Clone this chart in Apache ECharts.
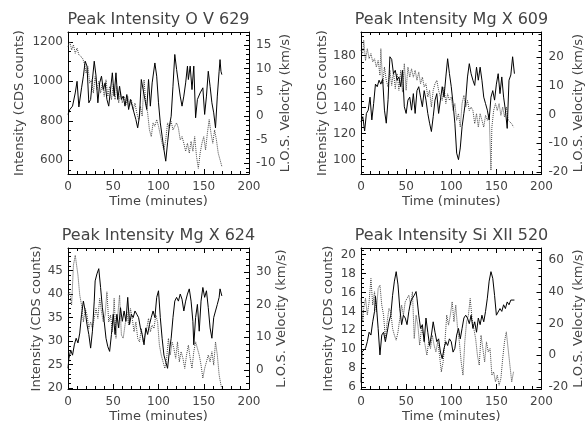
<!DOCTYPE html>
<html><head><meta charset="utf-8">
<script src="https://cdn.jsdelivr.net/npm/echarts@6/dist/echarts.min.js"></script>
<style>html,body{margin:0;padding:0;background:#fff}#c{width:586px;height:429px}</style>
</head><body><div id="c"></div>
<script>
// ---------- data ----------
const panelTitles = ['Peak Intensity O V 629', 'Peak Intensity Mg X 609', 'Peak Intensity Mg X 624', 'Peak Intensity Si XII 520'];
const xAxisName = 'Time (minutes)';
const leftAxisName = 'Intensity (CDS counts)';
const rightAxisName = 'L.O.S. Velocity (km/s)';
const timeRange = [0, 200];

// [minute, intensity] and [minute, velocity]
const ovIntensity = [[0,832],[2,857],[5,874],[8,941],[10,1000],[12,870],[15,967],[17,1026],[19,1102],[21,1077],[23,891],[25,908],[27,1009],[29,1102],[31,1026],[33,891],[35,992],[37,1026],[39,958],[41,992],[43,908],[45,874],[47,958],[49,1043],[51,925],[53,1043],[55,908],[57,975],[59,908],[61,925],[63,874],[65,933],[67,857],[69,908],[71,874],[73,840],[75,806],[77,764],[79,823],[81,1009],[83,958],[85,908],[87,857],[89,1009],[91,874],[93,992],[96,1093],[98,1026],[100,891],[102,789],[104,722],[106,654],[108,595],[110,688],[112,772],[114,823],[116,975],[118,1136],[120,1060],[122,992],[124,925],[126,874],[128,925],[130,992],[132,1077],[133,1009],[135,1077],[137,958],[139,1077],[141,815],[143,908],[146,941],[149,967],[151,832],[153,925],[155,1051],[157,975],[159,891],[161,840],[163,764],[165,925],[167,1051],[168,1110],[169,1051],[170,1034]];
const ovVelocity = [[0,14.6],[2,15.7],[4,13.9],[6,15],[8,13.2],[10,14.3],[12,12.9],[14,13.2],[16,12.2],[18,11.1],[20,9.0],[22,10.4],[24,6.9],[26,7.6],[28,4.8],[30,8.3],[32,5.5],[34,7.3],[36,4.8],[38,6.9],[40,4.1],[42,7.6],[44,4.1],[46,6.2],[48,3.4],[50,6.6],[52,3.4],[54,6.2],[56,2.7],[58,5.1],[60,2.7],[62,4.1],[64,2.3],[66,4.1],[68,2.0],[70,3.4],[72,1.3],[74,2.7],[76,0.6],[78,-0.8],[80,2.0],[82,-0.1],[84,7.6],[86,2.7],[88,0.6],[90,-3.0],[92,-4.4],[94,-1.5],[96,-2.2],[98,-0.8],[100,-2.2],[102,-2.2],[104,-5.8],[106,-7.2],[108,-5.1],[110,-1.5],[112,-2.6],[114,-1.2],[116,-3.0],[118,-2.2],[120,-1.5],[122,-2.6],[124,-5.1],[126,-4.4],[128,-5.8],[130,-7.5],[132,-5.8],[134,-7.9],[136,-5.4],[138,-7.5],[140,-4.4],[142,-8.6],[144,-11.1],[146,-7.9],[148,-5.8],[150,-4.4],[152,-7.2],[154,-3.7],[156,-0.8],[158,-3.7],[160,-5.8],[162,-3.0],[164,-5.1],[166,-7.9],[168,-9.3],[170,-10.7]];

const mg609Intensity = [[0,129],[2,133],[4,122],[6,135.5],[8,138],[10,148],[12,130.5],[14,143],[16,158],[18,156],[20,161],[22,158],[24,162],[26,138],[28,128],[30,146],[32,179],[34,177],[36,166],[38,168.6],[40,161],[42,163.5],[44,156],[46,168.6],[48,140.6],[50,135.5],[52,145.7],[54,148],[56,138],[58,150.7],[60,135.5],[62,153],[64,156],[66,148],[68,140.6],[70,153],[72,145.7],[74,135.5],[76,128],[78,121.6],[80,133],[82,145.7],[84,150.7],[86,135.5],[88,145.7],[90,156],[92,148],[94,163.5],[96,177.5],[98,166],[100,156],[102,143],[104,128],[106,105],[108,100],[110,109],[112,125.4],[114,135.5],[116,145.7],[118,163.5],[120,173.7],[122,166],[124,161],[126,157],[128,171],[130,161],[132,171],[134,161],[136,148],[138,143],[140,138],[142,130.5],[144,148],[146,153],[148,145.7],[150,158],[152,166],[154,150.7],[156,163.5],[158,148],[160,138],[162,124],[164,161],[166,165],[168,179],[170,166]];
const mg609Velocity = [[0,22.3],[2,21.2],[3,25.8],[5,18.8],[7,22.9],[9,19.4],[11,21.2],[13,18.3],[15,19.4],[17,16.5],[19,18.8],[21,13.6],[22,22.9],[24,10.7],[26,16.5],[28,11.9],[30,9.6],[32,15.4],[34,10.1],[36,14.8],[38,9],[40,14.2],[42,8.4],[44,15.4],[46,7.8],[48,17.7],[50,8.4],[52,16.5],[54,13],[56,15.9],[58,13],[60,15.4],[62,11.9],[64,14.8],[66,10.7],[68,13],[70,9.6],[72,10.7],[74,6.1],[76,8.4],[78,2.6],[80,8.4],[82,10.7],[84,11.9],[86,8.4],[88,6.1],[90,4.9],[92,9.6],[94,3.8],[96,7.2],[98,4.9],[100,6.1],[102,1.4],[104,3.8],[106,-2],[108,0.3],[110,-4.4],[112,3.8],[114,6.7],[116,2.6],[118,4.9],[120,1.4],[122,2.6],[124,1.4],[126,-3.2],[128,0.3],[130,-4.4],[132,0.3],[134,-2],[136,-4.4],[138,-0.3],[140,-2],[142,0.3],[144,-19.4],[145,-4.4],[147,1.4],[149,3.8],[151,1.4],[153,3.8],[155,-0.3],[157,2.6],[159,-0.9],[161,2.6],[163,-2],[165,-1.5],[167,-3.2],[169,-4.4]];

const mg624Intensity = [[0,24.2],[1,26.3],[3,28.1],[5,27.0],[7,29.2],[9,30.6],[11,29.6],[13,31.7],[15,35.7],[17,38.5],[19,36.4],[21,33.5],[23,31.4],[25,28.5],[27,32.1],[29,38.5],[30,42.8],[32,44.3],[34,45.4],[36,41.4],[38,37.1],[40,34.2],[42,30.6],[44,28.8],[46,27.8],[48,31.4],[50,35.7],[52,31.4],[54,35.7],[56,32.8],[58,37.1],[60,34.2],[62,36.4],[64,34.2],[66,39.3],[68,33.5],[70,35.7],[72,35.0],[74,36.4],[76,35.7],[78,35.0],[80,32.8],[82,31.4],[84,29.2],[86,32.8],[88,31.4],[90,33.5],[92,35.0],[94,36.4],[96,35.0],[98,39.3],[100,40.7],[102,35.0],[104,30.6],[106,27.0],[108,25.6],[110,24.2],[112,27.8],[114,30.6],[116,35.0],[118,38.5],[120,39.3],[122,38.5],[124,40.0],[126,38.9],[128,36.4],[130,38.5],[132,40.0],[134,41.1],[136,38.5],[138,34.2],[139,29.2],[141,35.0],[143,37.8],[145,32.1],[147,38.5],[149,41.4],[151,39.3],[153,40.7],[155,37.1],[157,32.8],[159,30.6],[161,35.0],[163,36.4],[165,37.8],[167,39.3],[168,41.1],[170,39.6]];
const mg624Velocity = [[0,22.9],[2,23.9],[4,19.8],[6,32.0],[8,35.1],[9,35.6],[11,29],[13,22.9],[15,19.8],[17,14.7],[19,18.8],[21,16.8],[23,12.7],[25,14.7],[27,12.7],[29,15.8],[31,18.8],[33,15.8],[35,21.9],[37,17.8],[39,14.7],[41,16.8],[43,23.9],[45,14.7],[47,16.8],[49,11.7],[51,21.9],[53,9.7],[55,16.8],[57,22.9],[59,10.7],[61,9.7],[63,13.7],[65,17.8],[67,13.7],[69,18.8],[71,15.8],[73,11.7],[75,14.7],[77,9.7],[79,8.6],[81,12.7],[83,8.6],[85,10.7],[87,12.7],[89,15.8],[91,11.7],[93,13.7],[95,12.7],[97,16.8],[99,14.7],[101,7.6],[103,4.6],[105,2.5],[107,0.5],[109,3.6],[111,9.7],[113,4.6],[115,8.6],[117,6.6],[119,3.6],[121,8.6],[123,2.5],[125,5.6],[127,3.6],[129,0.5],[131,4.6],[133,7.6],[135,3.6],[137,0.5],[139,5.6],[141,8.6],[143,6.6],[145,4.6],[147,1.5],[149,-2.5],[151,0.5],[153,2.5],[155,4.6],[157,2.5],[159,5.6],[161,1.5],[163,8.6],[165,4.6],[167,-1.5],[169,-4.6],[170,-5.6]];

const si520Intensity = [[0,6.5],[1,9.7],[3,9.9],[5,10.1],[7,10.8],[9,11.8],[11,11.5],[13,12.9],[15,14.0],[16,15.6],[17,14.7],[19,12.2],[21,9.4],[23,11.5],[25,11.8],[27,10.8],[29,11.8],[31,12.9],[33,13.6],[35,15.7],[37,17.2],[39,18.2],[41,16.8],[43,14.3],[45,12.6],[47,13.6],[49,13.3],[51,12.6],[53,14.0],[55,15.0],[57,15.4],[59,15.7],[61,16.1],[62,15.4],[64,13.6],[66,12.2],[68,12.6],[70,10.8],[72,13.3],[74,11.8],[76,10.4],[78,11.5],[80,12.9],[82,11.8],[84,10.8],[86,11.1],[88,9.7],[90,9.0],[92,10.1],[94,10.8],[96,10.4],[98,11.1],[100,10.8],[102,9.7],[104,10.1],[106,11.5],[108,12.2],[110,11.1],[112,12.2],[114,13.3],[116,13.6],[118,13.3],[120,12.7],[122,13.6],[124,12.2],[126,12.9],[128,11.8],[130,13.3],[132,12.6],[134,13.6],[136,12.9],[138,14.0],[140,15.4],[142,17.2],[144,18.2],[146,17.5],[148,15.7],[150,13.6],[152,13.4],[154,14.3],[156,14.0],[158,14.7],[160,14.3],[162,15.0],[164,14.7],[166,15.2],[168,15.2],[170,15.2]];
const si520Velocity = [[0,35.8],[2,21.1],[3,29.5],[5,35.8],[7,25.3],[9,33.7],[11,48.4],[13,31.6],[15,40],[17,27.4],[19,42.1],[21,44.2],[23,31.6],[25,25.3],[27,10.5],[29,21.1],[31,29.5],[33,27.4],[35,16.8],[37,12.6],[39,9.5],[41,14.7],[43,23.2],[45,31.6],[47,25.3],[49,33.7],[51,35.8],[53,37.9],[55,31.6],[57,40],[59,10.5],[61,25.3],[63,19],[65,6.3],[67,16.8],[69,12.6],[71,6.3],[73,0],[75,8.4],[77,4.2],[79,12.6],[81,6.3],[83,2.1],[85,8.4],[87,0],[89,-10.5],[91,-4.2],[93,8.4],[95,25.3],[97,19],[99,25.3],[101,33.7],[103,21.1],[105,31.6],[107,16.8],[109,8.4],[111,-4.2],[113,-12.6],[115,8.4],[117,21.1],[119,25.3],[121,35.8],[123,23.2],[125,16.8],[127,10.5],[129,0],[131,-6.3],[133,12.6],[135,4.2],[137,-4.2],[139,8.4],[141,2.1],[143,4.2],[145,-12.6],[147,-10.5],[149,-16.8],[151,-12.6],[153,-18.9],[155,-14.7],[157,-2.1],[159,8.4],[161,14.7],[163,4.2],[165,-6.3],[167,-16.8],[169,-10.5]];

const intensityData = [ovIntensity, mg609Intensity, mg624Intensity, si520Intensity];
const velocityData = [ovVelocity, mg609Velocity, mg624Velocity, si520Velocity];
// axis ranges [min, max] and major tick step
const intensityRange = [[530, 1250], [89, 198], [19.8, 49.8], [5.8, 20.7]];
const intensityStep = [200, 20, 5, 2];
const velocityRange = [[-12.3, 17.7], [-20.7, 28.7], [-5.8, 37.3], [-21.3, 67.6]];
const velocityStep = [5, 10, 10, 20];

// ---------- layout / style ----------
const layout = [
  {left: 68, top: 32, width: 181, height: 142, lGap: 42, rGap: 28, split: 4, vsplit: 6, minorI: 4, minorV: 5},
  {left: 361, top: 32, width: 181, height: 142, lGap: 32, rGap: 28, split: 5, vsplit: 5, minorI: 4, minorV: 5},
  {left: 68, top: 248, width: 181, height: 141, lGap: 25, rGap: 24, split: 6, vsplit: 4, minorI: 5, minorV: 5},
  {left: 361, top: 248, width: 181, height: 141, lGap: 26, rGap: 28, split: 7, vsplit: 4, minorI: 4, minorV: 4}
];
const FONT = 'DejaVu Sans';
const TXT = '#444';

function stepFormatter(step) {
  return function (v) {
    const r = v / step;
    return Math.abs(r - Math.round(r)) < 1e-6 ? String(Math.round(v * 1000) / 1000) : '';
  };
}
function tickCommon(minorSplit) {
  return {
    axisLine: {show: true, onZero: false, lineStyle: {color: '#000', width: 1}},
    axisTick: {show: true, inside: true, length: 5, lineStyle: {color: '#000', width: 1}},
    minorTick: {show: true, splitNumber: minorSplit, length: 3, lineStyle: {color: '#000', width: 1}},
    splitLine: {show: false},
    minorSplitLine: {show: false}
  };
}

const grid = [], xAxis = [], yAxis = [], series = [], title = [];
layout.forEach((L, i) => {
  grid.push({left: L.left, top: L.top, width: L.width, height: L.height, containLabel: false});
  title.push({
    text: panelTitles[i], left: L.left + L.width / 2, textAlign: 'center', top: L.top - 20, padding: 0,
    textStyle: {fontFamily: FONT, fontSize: 16, fontWeight: 'normal', color: TXT}
  });
  xAxis.push(Object.assign({
    type: 'value', gridIndex: i, position: 'bottom', min: timeRange[0], max: timeRange[1], interval: 50,
    name: xAxisName, nameLocation: 'middle', nameGap: 21,
    nameTextStyle: {fontFamily: FONT, fontSize: 13, color: TXT},
    axisLabel: {fontFamily: FONT, fontSize: 12, color: TXT, margin: 7}
  }, tickCommon(5)));
  xAxis.push(Object.assign({
    type: 'value', gridIndex: i, position: 'top', min: timeRange[0], max: timeRange[1], interval: 50,
    axisLabel: {show: false}
  }, tickCommon(5)));
  yAxis.push(Object.assign({
    type: 'value', gridIndex: i, position: 'left', min: intensityRange[i][0], max: intensityRange[i][1],
    splitNumber: L.split,
    name: leftAxisName, nameLocation: 'middle', nameGap: L.lGap,
    nameTextStyle: {fontFamily: FONT, fontSize: 13, color: TXT},
    axisLabel: {fontFamily: FONT, fontSize: 12, color: TXT, margin: 5, showMinLabel: false, showMaxLabel: false,
      formatter: stepFormatter(intensityStep[i])}
  }, tickCommon(L.minorI)));
  yAxis.push(Object.assign({
    type: 'value', gridIndex: i, position: 'right', min: velocityRange[i][0], max: velocityRange[i][1],
    splitNumber: L.vsplit,
    name: rightAxisName, nameLocation: 'middle', nameGap: L.rGap,
    nameTextStyle: {fontFamily: FONT, fontSize: 13, color: TXT},
    axisLabel: {fontFamily: FONT, fontSize: 12, color: TXT, margin: 7, showMinLabel: false, showMaxLabel: false,
      formatter: stepFormatter(velocityStep[i])}
  }, tickCommon(L.minorV)));
  series.push({
    type: 'line', xAxisIndex: i * 2, yAxisIndex: i * 2, data: intensityData[i], showSymbol: false, symbol: 'none',
    lineStyle: {color: '#000', width: 1}, animation: false, z: 3
  });
  series.push({
    type: 'line', xAxisIndex: i * 2, yAxisIndex: i * 2 + 1, data: velocityData[i], showSymbol: false, symbol: 'none',
    lineStyle: {color: '#444', width: 1, type: [1, 1]}, animation: false, z: 2
  });
});

const chart = echarts.init(document.getElementById('c'), null, {renderer: 'canvas'});
chart.setOption({animation: false, backgroundColor: '#fff', title, grid, xAxis, yAxis, series});
</script>
</body></html>
